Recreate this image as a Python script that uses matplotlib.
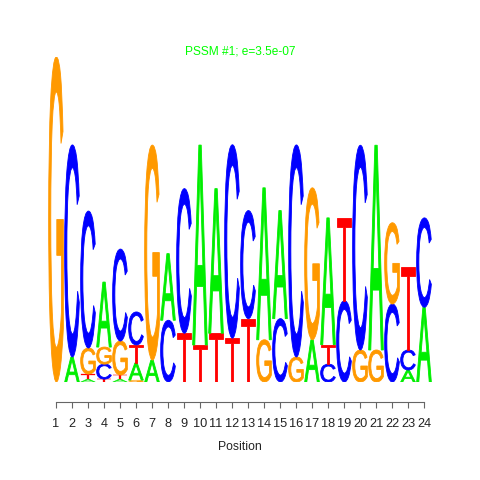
import matplotlib
import matplotlib.pyplot as plt
from matplotlib.font_manager import FontProperties
from matplotlib.patches import PathPatch
from matplotlib.textpath import TextPath
from matplotlib.transforms import Affine2D

matplotlib.use("Agg")

plt.rcParams["font.family"] = ["Liberation Sans", "DejaVu Sans"]

TITLE = "PSSM #1; e=3.5e-07"
POSITIONS = list(range(1, 25))
BASES = ["A", "C", "G", "T"]

# bits per base at each position
A_BITS = [0.0, 0.154, 0.018, 0.40, 0.018, 0.105, 0.135, 0.41, 0.0, 1.23, 0.89, 0.0,
          0.0, 0.935, 0.665, 0.0, 0.26, 0.78, 0.0, 0.0, 1.26, 0.0, 0.074, 0.46]
C_BITS = [0.0, 1.305, 0.843, 0.092, 0.566, 0.203, 0.0, 0.38, 0.89, 0.0, 0.0, 1.19,
          0.665, 0.0, 0.39, 1.305, 0.0, 0.11, 0.50, 1.26, 0.0, 0.48, 0.123, 0.55]
G_BITS = [2.0, 0.0, 0.16, 0.105, 0.209, 0.012, 1.323, 0.0, 0.0, 0.0, 0.0, 0.0,
          0.0, 0.26, 0.0, 0.154, 0.935, 0.0, 0.0, 0.197, 0.197, 0.50, 0.0, 0.0]
T_BITS = [0.0, 0.0, 0.031, 0.018, 0.025, 0.111, 0.0, 0.0, 0.30, 0.228, 0.30, 0.27,
          0.39, 0.0, 0.0, 0.0, 0.0, 0.12, 0.51, 0.0, 0.0, 0.0, 0.51, 0.0]

COLORS = {"A": "#00EE00", "C": "#0000FF", "G": "#FF9900", "T": "#FF0000"}
LETTER_WIDTH = 0.92

_GLYPH_FONT = FontProperties(family="Liberation Sans")


def letter_patch(ch: str, x: float, y: float, w: float, h: float) -> PathPatch:
    path = TextPath((0, 0), ch, size=1, prop=_GLYPH_FONT)
    ext = path.get_extents()
    tr = (Affine2D()
          .translate(-ext.x0, -ext.y0)
          .scale(w / ext.width, h / ext.height)
          .translate(x - w / 2, y))
    # thin outline in the same colour fattens the stems a bit
    return PathPatch(tr.transform_path(path), facecolor=COLORS[ch],
                     edgecolor=COLORS[ch], linewidth=0.6 if h > 0.05 else 0.2)


def main() -> None:
    fig = plt.figure(figsize=(4.8, 4.8), dpi=100)
    ax = fig.add_axes([0.1, 98 / 480, 0.8, 325 / 480])

    columns = {"A": A_BITS, "C": C_BITS, "G": G_BITS, "T": T_BITS}
    for i, pos in enumerate(POSITIONS):
        stack = sorted(((columns[b][i], b) for b in BASES), key=lambda t: t[0])
        y = 0.0
        for h, b in stack:
            if h <= 0:
                continue
            ax.add_patch(letter_patch(b, pos, y, LETTER_WIDTH, h))
            y += h

    ax.set_xlim(0.5, 24.5)
    ax.set_ylim(0, 2.0)
    for side in ("left", "top", "right"):
        ax.spines[side].set_visible(False)
    ax.spines["bottom"].set_position(("outward", 14.4))
    ax.spines["bottom"].set_bounds(1, 24)
    ax.spines["bottom"].set_color("#666666")
    ax.spines["bottom"].set_linewidth(0.8)
    ax.set_yticks([])
    ax.set_xticks(POSITIONS)
    ax.tick_params(axis="x", length=4.3, width=0.8, color="#666666",
                   labelsize=9.2, pad=7, labelcolor="#222222")
    ax.set_xlabel("Position", fontsize=8.8, labelpad=8, color="#222222")

    fig.text(0.5, 1 - 52 / 480, TITLE, ha="center", va="center",
             color="#00FF00", fontsize=8.6)

    fig.savefig("out.png", dpi=100)
    plt.close(fig)


if __name__ == "__main__":
    main()
